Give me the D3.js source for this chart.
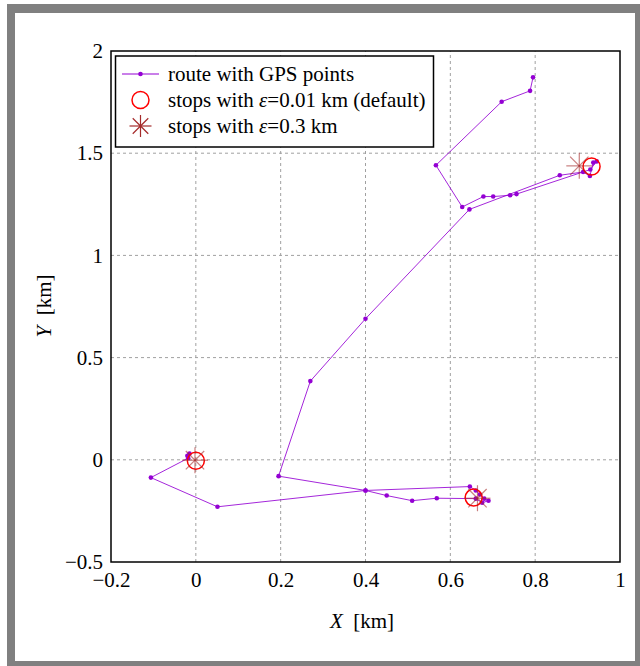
<!DOCTYPE html>
<html><head><meta charset="utf-8">
<script src="https://cdn.jsdelivr.net/npm/d3@7"></script>
<style>html,body{margin:0;padding:0;background:#fff;}svg{display:block;}</style>
</head><body>
<svg id="c" width="640" height="666"></svg>
<script>
// ---- data ----
const routeX = [-0.020,-0.015,-0.018,-0.106,0.051,0.400,0.646,0.660,0.670,0.680,0.690,0.675,0.660,0.568,0.510,0.450,0.400,0.195,0.270,0.400,0.645,0.858,0.913,0.929,0.937,0.945,0.930,0.756,0.741,0.701,0.678,0.628,0.566,0.721,0.788,0.795];
const routeY = [0.020,0.030,0.008,-0.087,-0.230,-0.150,-0.131,-0.150,-0.170,-0.190,-0.200,-0.210,-0.190,-0.188,-0.200,-0.175,-0.150,-0.080,0.385,0.690,1.225,1.392,1.408,1.389,1.454,1.460,1.420,1.300,1.294,1.288,1.288,1.237,1.441,1.752,1.805,1.871];
const stopsDefaultX = [0.000,0.655,0.933];
const stopsDefaultY = [-0.005,-0.185,1.435];
const stopsCoarseX = [-0.002,0.664,0.904];
const stopsCoarseY = [-0.002,-0.188,1.438];
const xTicks = [-0.2,0,0.2,0.4,0.6,0.8,1];
const yTicks = [-0.5,0,0.5,1,1.5,2];
const legendLabels = ["route with GPS points","stops with \u03B5=0.01 km (default)","stops with \u03B5=0.3 km"];

const svg = d3.select("#c");
const font = "'Liberation Serif','Times New Roman',serif";
const fs = 21;
// frame
svg.append("rect").attr("x",7).attr("y",4).attr("width",633).attr("height",662).attr("fill","#808080");
svg.append("rect").attr("x",15).attr("y",13).attr("width",620).attr("height",648).attr("fill","#fff");

const x = d3.scaleLinear().domain([-0.2,1]).range([111,620]);
const y = d3.scaleLinear().domain([-0.5,2]).range([562,51]);

// grid
const g = svg.append("g");
g.selectAll(".gx").data(xTicks.filter(t=>t>-0.2&&t<1)).join("line")
 .attr("x1",d=>x(d)).attr("x2",d=>x(d)).attr("y1",y(-0.5)).attr("y2",y(2))
 .attr("stroke","#a0a0a0").attr("stroke-width",1).attr("stroke-dasharray","3,3");
g.selectAll(".gy").data(yTicks.filter(t=>t>-0.5&&t<2)).join("line")
 .attr("y1",d=>y(d)).attr("y2",d=>y(d)).attr("x1",x(-0.2)).attr("x2",x(1))
 .attr("stroke","#a0a0a0").attr("stroke-width",1).attr("stroke-dasharray","3,3");

// axes
const fmt = d => (d<0?"\u2212":"") + String(Math.abs(d));
const xa = svg.append("g").attr("transform",`translate(0,${y(-0.5)})`)
 .call(d3.axisBottom(x).tickValues(xTicks).tickFormat(fmt).tickSize(0).tickPadding(10));
const ya = svg.append("g").attr("transform",`translate(${x(-0.2)},0)`)
 .call(d3.axisLeft(y).tickValues(yTicks).tickFormat(fmt).tickSize(0).tickPadding(8));
[xa,ya].forEach(a=>{a.select(".domain").remove();a.selectAll("text").attr("font-family",font).attr("font-size",fs).attr("fill","#000");});

// route
const pts = routeX.map((v,i)=>[v,routeY[i]]);
const line = d3.line().x(d=>x(d[0])).y(d=>y(d[1]));
svg.append("path").datum(pts).attr("d",line).attr("fill","none").attr("stroke","#9400d3").attr("stroke-width",1).attr("stroke-opacity",0.85);
svg.selectAll(".pt").data(pts).join("circle").attr("cx",d=>x(d[0])).attr("cy",d=>y(d[1])).attr("r",2.3).attr("fill","#9400d3");

// stops default
svg.selectAll(".sd").data(stopsDefaultX.map((v,i)=>[v,stopsDefaultY[i]])).join("circle")
 .attr("cx",d=>x(d[0])).attr("cy",d=>y(d[1])).attr("r",8.5).attr("fill","none").attr("stroke","#ff0000").attr("stroke-width",1.5);
// asterisks
function asterisk(sel, cx, cy, r, color, op){
  const gg = sel.append("g").attr("transform",`translate(${cx},${cy})`);
  for(let k=0;k<4;k++){
    const a = k*Math.PI/4;
    gg.append("line").attr("x1",-r*Math.cos(a)).attr("y1",-r*Math.sin(a)).attr("x2",r*Math.cos(a)).attr("y2",r*Math.sin(a))
      .attr("stroke",color).attr("stroke-width",1.2).attr("stroke-opacity",op);
  }
}
stopsCoarseX.forEach((v,i)=>asterisk(svg,x(v),y(stopsCoarseY[i]),13,"#a52a2a",0.6));

// axis box
svg.append("rect").attr("x",x(-0.2)).attr("y",y(2)).attr("width",x(1)-x(-0.2)).attr("height",y(-0.5)-y(2))
 .attr("fill","none").attr("stroke","#000").attr("stroke-width",1.5);

// legend
const lg = svg.append("g");
lg.append("rect").attr("x",115.5).attr("y",56).attr("width",318).attr("height",91).attr("fill","#fff").attr("stroke","#000").attr("stroke-width",1.5);
lg.append("line").attr("x1",122).attr("x2",159).attr("y1",74).attr("y2",74).attr("stroke","#9400d3").attr("stroke-width",1.2);
lg.append("circle").attr("cx",140.5).attr("cy",74).attr("r",2.3).attr("fill","#9400d3");
lg.append("circle").attr("cx",140.5).attr("cy",100).attr("r",8.5).attr("fill","none").attr("stroke","#ff0000").attr("stroke-width",1.5);
asterisk(lg,140.5,126,11,"#a52a2a",1);
legendLabels.forEach((t,i)=>{
  const tx = lg.append("text").attr("x",168).attr("y",74+i*26).attr("dy","0.35em").attr("font-family",font).attr("font-size",fs);
  if(i===0){tx.text(t);} else {
    const parts = t.split("\u03B5");
    tx.append("tspan").text(parts[0]);
    tx.append("tspan").attr("font-style","italic").text("\u03B5");
    tx.append("tspan").text(parts[1]);
  }
});

// axis labels
const xl = svg.append("text").attr("x",362).attr("y",628).attr("text-anchor","middle").attr("font-family",font).attr("font-size",fs);
xl.append("tspan").attr("font-style","italic").text("X");
xl.append("tspan").text("\u00A0 [km]");
const yl = svg.append("text").attr("transform",`translate(51,306) rotate(-90)`).attr("text-anchor","middle").attr("font-family",font).attr("font-size",fs);
yl.append("tspan").attr("font-style","italic").text("Y");
yl.append("tspan").text("\u00A0 [km]");
</script>
</body></html>
